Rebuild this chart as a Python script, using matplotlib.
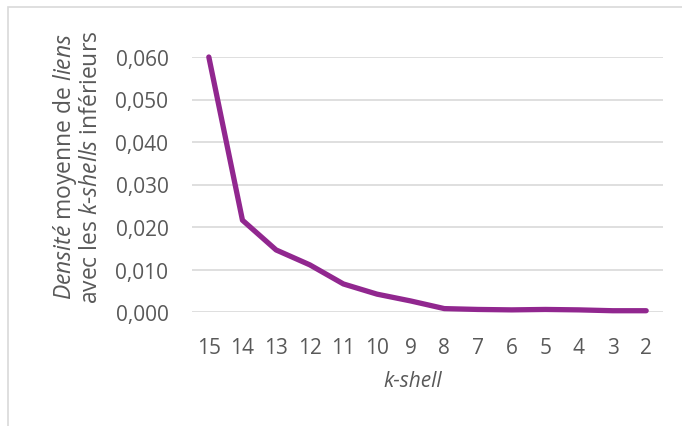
import numpy as np
import matplotlib.pyplot as plt
from matplotlib.patches import Rectangle

plt.rcParams['font.family'] = ['Open Sans', 'DejaVu Sans']
plt.rcParams['mathtext.fontset'] = 'custom'
plt.rcParams['mathtext.rm'] = 'Open Sans'
plt.rcParams['mathtext.it'] = 'Open Sans:italic'

kshells = ['15', '14', '13', '12', '11', '10', '9', '8', '7', '6', '5', '4', '3', '2']
densite = [0.0600, 0.0216, 0.0146, 0.0111, 0.0066, 0.0042, 0.0026, 0.0008,
           0.0006, 0.0005, 0.0006, 0.0005, 0.0003, 0.0003]
yticks = [0.0, 0.01, 0.02, 0.03, 0.04, 0.05, 0.06]

txt = '#595959'
W, H = 682, 427
fig = plt.figure(figsize=(W / 100, H / 100), dpi=100)
ax = fig.add_axes([192 / W, 1 - 313 / H, (663 - 192) / W, (313 - 58) / H])

# cadre du graphique (coupé à droite et en bas)
fig.patches.append(Rectangle((7.5 / W, -0.1), 1.2, 1 - 7.5 / H + 0.1,
                             transform=fig.transFigure, fill=False,
                             edgecolor='#D9D9D9', lw=1.2))

x = np.arange(len(kshells))
ax.plot(x, densite, color='#91278F', lw=3.8, solid_capstyle='round',
        solid_joinstyle='round', zorder=3, clip_on=False)

ax.set_xlim(-0.5, len(kshells) - 0.5)
ax.set_ylim(0, 0.06)
ax.set_yticks(yticks)
ax.set_yticklabels([f'{v:.3f}'.replace('.', ',') for v in yticks])
ax.set_xticks(x)
ax.set_xticklabels(kshells)
ax.grid(axis='y', color='#D9D9D9', lw=1.2)
ax.set_axisbelow(True)
for s in ax.spines.values():
    s.set_visible(False)
ax.tick_params(length=0, labelsize=15, colors=txt)
ax.tick_params(axis='y', pad=17)
ax.tick_params(axis='x', pad=18)

fig.text(413 / W, 1 - 382 / H, 'k-shell', fontsize=15, style='italic',
         color=txt, ha='center', va='center')
fig.text(77 / W, 1 - 167 / H,
         '$\\mathit{Densité}$ moyenne de $\\mathit{liens}$\n'
         'avec les $\\mathit{k}$-$\\mathit{shells}$ inférieurs',
         fontsize=16.5, color=txt, rotation=90, ha='center', va='center',
         multialignment='center', linespacing=1.05)

fig.savefig('out.png', dpi=100)
